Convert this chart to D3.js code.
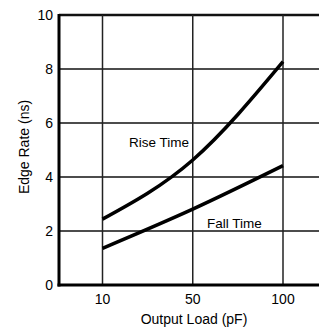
<!DOCTYPE html>
<html>
<head>
<meta charset="utf-8">
<script src="https://cdn.jsdelivr.net/npm/d3@7"></script>
<style>
  body { margin: 0; background: #fff; }
  text { font-family: "Liberation Sans", Arial, sans-serif; fill: #000; }
</style>
</head>
<body>
<div id="chart"></div>
<script>
const loads = ["10", "50", "100"]
const riseTime = [2.44, 4.63, 8.27]
const fallTime = [1.36, 2.81, 4.42]
const yTicks = [0, 2, 4, 6, 8, 10]

const width = 319, height = 331
const plotLeft = 59, plotTop = 15, plotBottom = 285

const svg = d3.select("#chart")
	.append("svg")
	.attr("width", width)
	.attr("height", height)

const x = d3.scalePoint(loads, [102.5, 283])
const y = d3.scaleLinear([0, 10], [plotBottom, plotTop])

// horizontal grid
svg.append("g")
	.selectAll("line")
	.data(yTicks.filter(d => d > 0))
	.join("line")
	.attr("x1", plotLeft)
	.attr("x2", width)
	.attr("y1", d => y(d))
	.attr("y2", d => y(d))
	.attr("stroke", "#111")
	.attr("stroke-width", d => d === 10 ? 2.5 : 1.5)

// vertical grid
svg.append("g")
	.selectAll("line")
	.data(loads)
	.join("line")
	.attr("x1", d => x(d))
	.attr("x2", d => x(d))
	.attr("y1", plotTop)
	.attr("y2", plotBottom)
	.attr("stroke", "#222")
	.attr("stroke-width", 1.5)

// axes lines
svg.append("line")
	.attr("x1", plotLeft).attr("x2", plotLeft)
	.attr("y1", plotTop - 1).attr("y2", plotBottom + 1.5)
	.attr("stroke", "#000").attr("stroke-width", 3)
svg.append("line")
	.attr("x1", plotLeft - 1.5).attr("x2", width)
	.attr("y1", plotBottom).attr("y2", plotBottom)
	.attr("stroke", "#000").attr("stroke-width", 3)

// tick labels
svg.append("g")
	.selectAll("text")
	.data(yTicks)
	.join("text")
	.attr("x", 53)
	.attr("y", d => y(d) + 5)
	.attr("text-anchor", "end")
	.attr("font-size", 14)
	.text(d => d)

svg.append("g")
	.selectAll("text")
	.data(loads)
	.join("text")
	.attr("x", d => x(d))
	.attr("y", 304)
	.attr("text-anchor", "middle")
	.attr("font-size", 14)
	.text(d => d)

// curves
const line = d3.line()
	.x((d, i) => x(loads[i]))
	.y(d => y(d))
	.curve(d3.curveMonotoneX)

for (const s of [riseTime, fallTime]) {
	svg.append("path")
		.datum(s)
		.attr("d", line)
		.attr("fill", "none")
		.attr("stroke", "#000")
		.attr("stroke-width", 3.5)
}

// labels
svg.append("text")
	.attr("x", 189).attr("y", 147)
	.attr("text-anchor", "end")
	.attr("font-size", 13.5)
	.text("Rise Time")

svg.append("text")
	.attr("x", 207).attr("y", 228)
	.attr("font-size", 13.5)
	.text("Fall Time")

svg.append("text")
	.attr("x", 194).attr("y", 324)
	.attr("text-anchor", "middle")
	.attr("font-size", 14)
	.text("Output Load (pF)")

svg.append("text")
	.attr("transform", "translate(29,147) rotate(-90)")
	.attr("text-anchor", "middle")
	.attr("font-size", 14)
	.text("Edge Rate (ns)")
</script>
</body>
</html>
